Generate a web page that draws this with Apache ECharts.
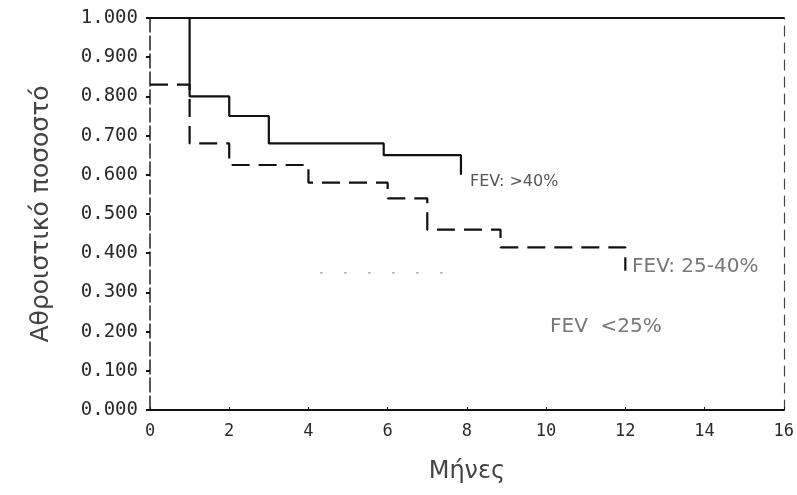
<!DOCTYPE html>
<html><head><meta charset="utf-8">
<script src="https://cdn.jsdelivr.net/npm/echarts@6/dist/echarts.min.js"></script>
<style>html,body{margin:0;padding:0;background:#fff}#c{width:797px;height:495px}</style>
</head><body><div id="c"></div>
<script>
// Data (months, cumulative proportion)
const timesHigh = [0, 1, 2, 3, 5.9, 7.85];
const survHigh  = [1.0, 0.80, 0.75, 0.68, 0.65, 0.60];
const timesMid  = [0, 1, 2, 4, 6, 7, 8.85, 12];
const survMid   = [0.83, 0.68, 0.625, 0.58, 0.54, 0.46, 0.415, 0.355];
const timesLow  = [4.3, 7.5];
const survLow   = [0.35, 0.35];
const xTicks = [0, 2, 4, 6, 8, 10, 12, 14, 16];
const yTicks = [0, 0.1, 0.2, 0.3, 0.4, 0.5, 0.6, 0.7, 0.8, 0.9, 1.0];
const labelHigh = 'FEV: >40%';
const labelMid = 'FEV: 25-40%';
const labelLow = 'FEV  <25%';
const xTitle = 'Μήνες';
const yTitle = 'Αθροιστικό ποσοστό';

const zip = (a, b) => a.map((v, i) => [v, b[i]]);
const chart = echarts.init(document.getElementById('c'));
const tickFont = {fontFamily: 'DejaVu Sans Mono', fontSize: 19, color: '#2a2a2a'};
chart.setOption({
  animation: false,
  backgroundColor: '#fff',
  grid: {left: 150, right: 13, top: 18, bottom: 85},
  xAxis: [{
    type: 'value', min: xTicks[0], max: xTicks[xTicks.length - 1], interval: 2,
    name: xTitle, nameLocation: 'middle', nameGap: 50,
    nameTextStyle: {fontFamily: 'DejaVu Sans', fontSize: 24, color: '#444'},
    axisLine: {onZero: false, lineStyle: {color: '#111', width: 2}},
    axisTick: {show: true, inside: true, length: 3, lineStyle: {color: '#111'}},
    axisLabel: Object.assign({margin: 13}, tickFont, {fontSize: 17}),
    splitLine: {show: false}
  }, {
    type: 'value', min: 0, max: 16, position: 'top',
    axisLine: {show: true, onZero: false, lineStyle: {color: '#111', width: 2}},
    axisTick: {show: false}, axisLabel: {show: false}, splitLine: {show: false}
  }],
  yAxis: [{
    type: 'value', min: yTicks[0], max: yTicks[yTicks.length - 1], interval: 0.1,
    name: yTitle, nameLocation: 'middle', nameGap: 96, nameRotate: 90,
    nameTextStyle: {fontFamily: 'DejaVu Sans', fontSize: 25, color: '#444'},
    axisLine: {onZero: false, lineStyle: {color: '#222', width: 1.5, type: [14, 4]}},
    axisTick: {show: true, length: 4, lineStyle: {color: '#111', width: 2}},
    axisLabel: Object.assign({margin: 12, formatter: v => v.toFixed(3)}, tickFont),
    splitLine: {show: false}
  }, {
    type: 'value', min: 0, max: 1, position: 'right',
    axisLine: {show: true, onZero: false, lineStyle: {color: '#444', width: 1.2, type: [10, 7]}},
    axisTick: {show: false}, axisLabel: {show: false}, splitLine: {show: false}
  }],
  series: [{
    type: 'line', step: 'end', showSymbol: false,
    data: zip(timesHigh, survHigh),
    lineStyle: {color: '#111', width: 2.2}
  }, {
    type: 'line', step: 'end', showSymbol: false,
    data: zip(timesMid, survMid),
    lineStyle: {color: '#111', width: 2.2, type: [18, 9]}
  }, {
    type: 'line', showSymbol: false,
    data: zip(timesLow, survLow),
    lineStyle: {color: '#999', width: 1.5, type: [2, 22]}
  }],
  graphic: [
    {type: 'text', left: 470, top: 174, style: {text: labelHigh, font: '16px "DejaVu Sans"', fill: '#555'}},
    {type: 'text', left: 632, top: 257, style: {text: labelMid, font: '20px "DejaVu Sans"', fill: '#777'}},
    {type: 'text', left: 550, top: 317, style: {text: labelLow, font: '20px "DejaVu Sans"', fill: '#777'}}
  ]
});
</script></body></html>
